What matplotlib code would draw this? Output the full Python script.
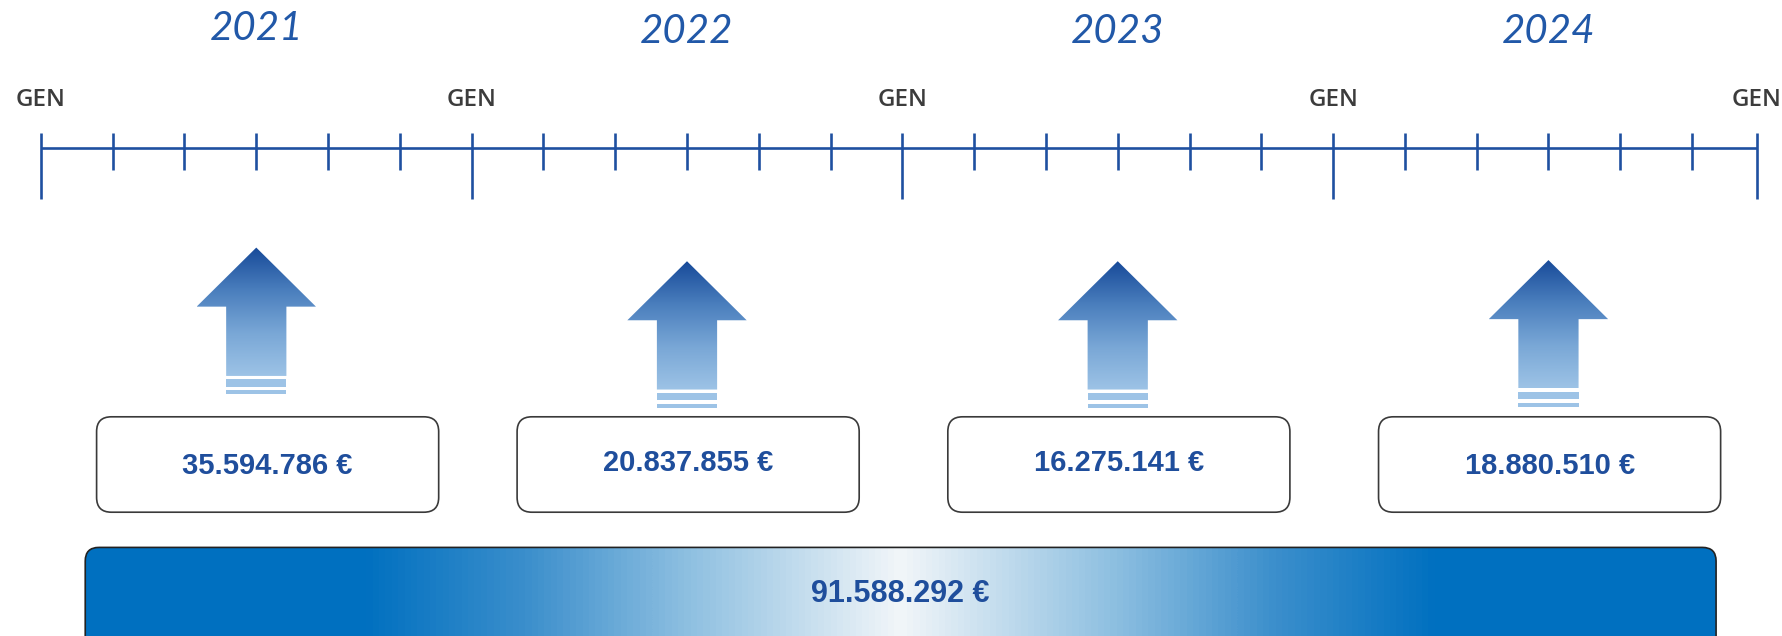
import numpy as np
import matplotlib.pyplot as plt
from matplotlib.patches import Polygon, FancyBboxPatch, Rectangle
from matplotlib.colors import LinearSegmentedColormap

# data
years = ['2021', '2022', '2023', '2024']
month_label = 'GEN'
ticks_per_year = 6
yearly_values = [35594786, 20837855, 16275141, 18880510]
total_value = 91588292


def euro(v):
    return f"{v:,}".replace(',', '.') + ' €'


# layout (canvas units, 1568 x 560, y down)
x0 = 36
year_w = 379
x_end = 1546
line_y = 130
year_y = [25, 28, 28, 28]
arrow_top = [218, 230, 230, 229]
box_left = [85, 455, 834, 1213]
box_w = 301
box_top, box_bot = 367, 451
text_y = [410, 408, 408, 410]

blue_dark = '#1f4e9c'
line_blue = '#1f50a0'
grey_txt = '#3c3c3c'

fig = plt.figure(figsize=(17.82, 6.36), dpi=100)
ax = fig.add_axes([0, 0, 1, 1])
ax.set_xlim(0, 1568)
ax.set_ylim(560, 0)
ax.axis('off')

# timeline
ax.plot([x0, x_end], [line_y, line_y], color=line_blue, lw=1.9, solid_capstyle='butt')
step = year_w / ticks_per_year
n = len(years) * ticks_per_year
for k in range(n + 1):
    x = x0 + k * step if k < n else x_end
    major = k % ticks_per_year == 0
    ax.plot([x, x], [117, 175 if major else 150], color=line_blue, lw=1.9,
            solid_capstyle='butt')
    if major:
        ax.text(x, 88, month_label, ha='center', va='center', fontsize=17.5,
                family=['Open Sans', 'DejaVu Sans'], weight='semibold', color=grey_txt)

for i, y in enumerate(years):
    ax.text(x0 + (i + 0.5) * year_w, year_y[i], y, ha='center', va='center',
            fontsize=29, style='italic', family=['Lato', 'DejaVu Sans'],
            color='#2158a8')

# arrows with vertical gradient
arrow_cmap = LinearSegmentedColormap.from_list(
    'arr', ['#174a99', '#4a7ebd', '#79a7d6', '#9dc3e6'])
grad = np.linspace(0, 1, 256).reshape(-1, 1)
hw_head, hw_shaft, head_h, shaft_h = 52.5, 26.5, 52, 61
for i in range(len(years)):
    cx = x0 + (i + 0.5) * year_w
    t = arrow_top[i]
    hb = t + head_h
    sb = hb + shaft_h
    pts = [(cx, t), (cx + hw_head, hb), (cx + hw_shaft, hb), (cx + hw_shaft, sb),
           (cx - hw_shaft, sb), (cx - hw_shaft, hb), (cx - hw_head, hb)]
    poly = Polygon(pts, closed=True, facecolor='none', edgecolor='none')
    ax.add_patch(poly)
    im = ax.imshow(grad, cmap=arrow_cmap, aspect='auto', origin='upper',
                   extent=(cx - hw_head, cx + hw_head, sb, t), interpolation='bilinear')
    im.set_clip_path(poly)
    ax.add_patch(Rectangle((cx - hw_shaft, sb + 3), 2 * hw_shaft, 6.5,
                           facecolor='#9dc3e6', edgecolor='none'))
    ax.add_patch(Rectangle((cx - hw_shaft, sb + 12.5), 2 * hw_shaft, 3.5,
                           facecolor='#9dc3e6', edgecolor='none'))

# value boxes
for i, v in enumerate(yearly_values):
    box = FancyBboxPatch((box_left[i], box_top), box_w, box_bot - box_top,
                         boxstyle='round,pad=0,rounding_size=13',
                         facecolor='white', edgecolor='#3a3a3a', lw=1.2)
    ax.add_patch(box)
    ax.text(box_left[i] + box_w / 2, text_y[i], euro(v), ha='center', va='center',
            fontsize=21, weight='bold', family=['Liberation Sans', 'DejaVu Sans'],
            color=blue_dark)

# total bar with horizontal gradient
bar_l, bar_r, bar_t, bar_b = 75, 1510, 482, 580
bar = FancyBboxPatch((bar_l, bar_t), bar_r - bar_l, bar_b - bar_t,
                     boxstyle='round,pad=0,rounding_size=12',
                     facecolor='none', edgecolor='#222222', lw=1.2, zorder=3)
ax.add_patch(bar)
bar_cmap = LinearSegmentedColormap.from_list(
    'bar', [(0, '#0070c0'), (0.17, '#0070c0'), (0.27, '#3c8fcc'),
            (0.37, '#8fc0e1'), (0.5, '#f2f6f9'), (0.63, '#8fc0e1'),
            (0.73, '#3c8fcc'), (0.83, '#0070c0'), (1, '#0070c0')])
hgrad = np.linspace(0, 1, 512).reshape(1, -1)
im = ax.imshow(hgrad, cmap=bar_cmap, aspect='auto', origin='upper',
               extent=(bar_l, bar_r, bar_b, bar_t), interpolation='bilinear', zorder=2)
im.set_clip_path(bar)
ax.text((bar_l + bar_r) / 2, 523, euro(total_value), ha='center', va='center',
        fontsize=22, weight='bold', family=['Liberation Sans', 'DejaVu Sans'],
        color=blue_dark, zorder=4)

ax.set_xlim(0, 1568)
ax.set_ylim(560, 0)
fig.savefig('out.png', dpi=100)
